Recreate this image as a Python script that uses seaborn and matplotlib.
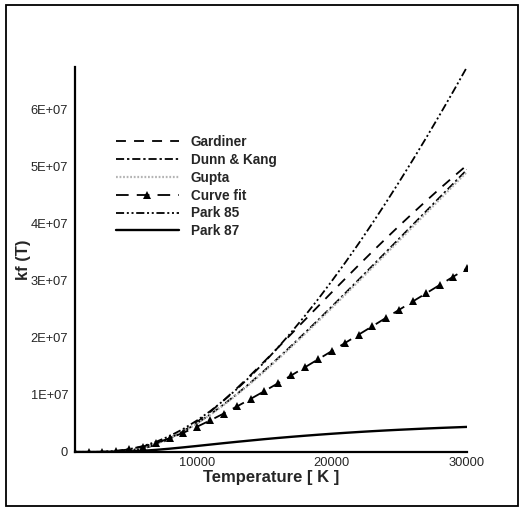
import numpy as np
import pandas as pd
import matplotlib
matplotlib.use("Agg")
import matplotlib.pyplot as plt
from matplotlib.ticker import MultipleLocator, FuncFormatter
from matplotlib.patches import Rectangle
import seaborn as sns

# ---- data (kf in units of 1E+07) ----
temperature = [1000, 2000, 3000, 4000, 5000, 6000, 7000, 8000, 9000, 10000,
               11000, 12000, 13000, 14000, 15000, 16000, 17000, 18000, 19000, 20000,
               21000, 22000, 23000, 24000, 25000, 26000, 27000, 28000, 29000, 30000]

gardiner = [0.0, 0.0, 0.0003, 0.0039, 0.0198, 0.0585, 0.127, 0.228, 0.361, 0.521,
            0.704, 0.906, 1.123, 1.351, 1.586, 1.826, 2.069, 2.314, 2.558, 2.801,
            3.041, 3.279, 3.513, 3.743, 3.969, 4.190, 4.407, 4.620, 4.827, 5.030]

dunn_kang = [0.0, 0.0, 0.001, 0.0085, 0.031, 0.076, 0.146, 0.242, 0.360, 0.500,
             0.659, 0.833, 1.020, 1.218, 1.426, 1.640, 1.861, 2.087, 2.317, 2.550,
             2.786, 3.024, 3.264, 3.504, 3.745, 3.986, 4.227, 4.469, 4.709, 4.950]

gupta = [0.0, 0.0, 0.001, 0.008, 0.030, 0.074, 0.143, 0.238, 0.355, 0.494,
         0.651, 0.824, 1.009, 1.205, 1.411, 1.623, 1.842, 2.066, 2.294, 2.526,
         2.760, 2.996, 3.234, 3.473, 3.712, 3.952, 4.192, 4.432, 4.672, 4.912]

curve_fit = [0.0, 0.0001, 0.0032, 0.0166, 0.0464, 0.0947, 0.160, 0.241, 0.336, 0.440,
             0.554, 0.674, 0.801, 0.932, 1.066, 1.203, 1.343, 1.484, 1.627, 1.770,
             1.915, 2.060, 2.205, 2.351, 2.496, 2.641, 2.786, 2.931, 3.076, 3.220]

park85 = [0.0, 0.0, 0.0035, 0.0174, 0.049, 0.102, 0.179, 0.280, 0.403, 0.549,
          0.716, 0.903, 1.108, 1.332, 1.572, 1.828, 2.099, 2.385, 2.684, 2.998,
          3.323, 3.660, 4.010, 4.371, 4.743, 5.124, 5.516, 5.918, 6.329, 6.750]

park87 = [0.0, 0.0, 0.0003, 0.0026, 0.0092, 0.021, 0.0377, 0.058, 0.081, 0.105,
          0.130, 0.155, 0.179, 0.202, 0.225, 0.246, 0.266, 0.285, 0.303, 0.320,
          0.336, 0.351, 0.365, 0.378, 0.390, 0.401, 0.412, 0.422, 0.431, 0.440]

series_names = ["Gardiner", "Dunn & Kang", "Gupta", "Curve fit", "Park 85", "Park 87"]
series_values = [gardiner, dunn_kang, gupta, curve_fit, park85, park87]
scale = 1e7

x_label = "Temperature [ K ]"
y_label = "kf (T)"

# ---- styling ----
sns.set_style("white")
plt.rcParams["font.family"] = ["Liberation Sans", "DejaVu Sans"]

styles = {
    "Gardiner":    dict(color="black", lw=1.3, linestyle=(0, (5.5, 4.5))),
    "Dunn & Kang": dict(color="black", lw=1.3, linestyle=(0, (4.5, 1.6, 1.3, 1.6))),
    "Gupta":       dict(color="#b4b4b4", lw=1.6, linestyle=(0, (0.8, 0.8))),
    "Curve fit":   dict(color="black", lw=1.3, linestyle=(0, (7, 4.5)),
                        marker="^", markersize=6, markeredgewidth=0),
    "Park 85":     dict(color="black", lw=1.3,
                        linestyle=(0, (4.5, 1.5, 1.1, 1.5, 1.1, 1.5))),
    "Park 87":     dict(color="black", lw=1.7, linestyle="-"),
}

W, H = 523, 508
fig = plt.figure(figsize=(W / 100, H / 100), dpi=100)
ax = fig.add_axes([75 / W, 1 - 452 / H, (467 - 75) / W, (452 - 67) / H])

frames = []
for name, vals in zip(series_names, series_values):
    frames.append(pd.DataFrame({"T": temperature,
                                "kf": np.array(vals) * scale,
                                "model": name}))
df = pd.concat(frames, ignore_index=True)

for name in series_names:
    sub = df[df["model"] == name]
    sns.lineplot(data=sub, x="T", y="kf", ax=ax, label=name, **styles[name])

ax.set_xlim(1000, 30000)
ax.set_ylim(0, 6.75e7)

for s in ["top", "right"]:
    ax.spines[s].set_visible(False)
for s in ["left", "bottom"]:
    ax.spines[s].set_linewidth(1.6)
    ax.spines[s].set_color("black")

ax.xaxis.set_major_locator(MultipleLocator(10000))
ax.xaxis.set_minor_locator(MultipleLocator(2000))
ax.yaxis.set_major_locator(MultipleLocator(1e7))
ax.yaxis.set_minor_locator(MultipleLocator(2e6))
ax.yaxis.set_major_formatter(FuncFormatter(lambda v, p: "0" if v == 0 else f"{v:.0E}"))
ax.xaxis.set_major_formatter(FuncFormatter(lambda v, p: f"{int(round(v))}"))

ax.tick_params(which="major", direction="in", length=6, width=1.4,
               labelsize=9.3, color="black", pad=5)
ax.tick_params(which="minor", direction="in", length=3.5, width=0.9, color="black")
ax.tick_params(axis="x", which="major", pad=3.5)

ax.set_xlabel(x_label, fontsize=12, fontweight="bold", labelpad=1)
ax.set_ylabel(y_label, fontsize=12, fontweight="bold")
ax.yaxis.set_label_coords(-0.113, 0.5)

leg = ax.legend(loc="upper left", bbox_to_anchor=(0.091, 0.837), frameon=False,
                handlelength=4.6, handletextpad=0.9, labelspacing=0.28,
                borderaxespad=0, prop={"weight": "bold", "size": 9.8})

fig.add_artist(Rectangle((6 / W, 1 - 506 / H), (518 - 6) / W, (506 - 5) / H,
                         transform=fig.transFigure, fill=False,
                         edgecolor="black", linewidth=1.3))

fig.savefig("out.png", dpi=100, facecolor="white")
